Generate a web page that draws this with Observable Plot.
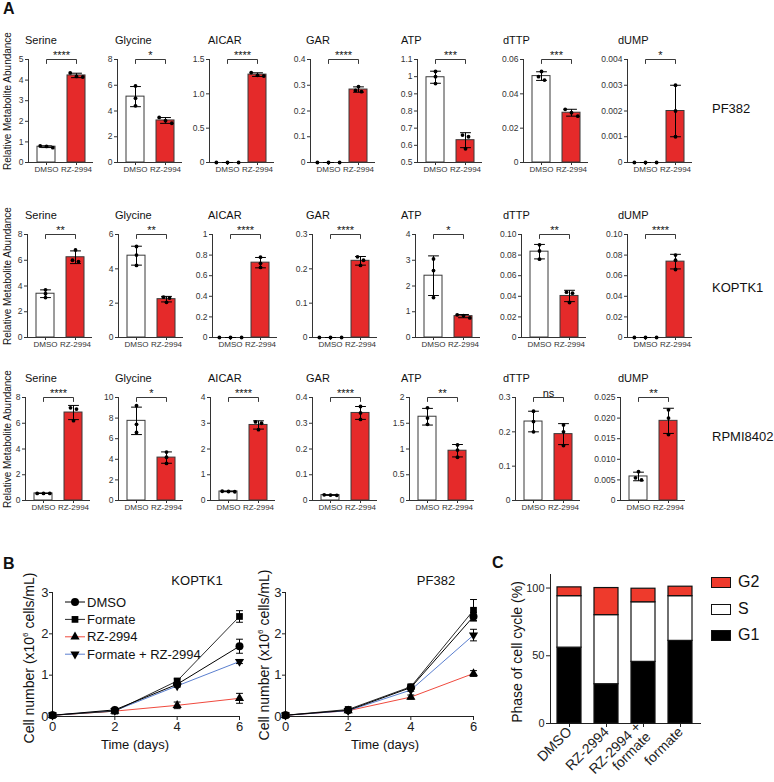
<!DOCTYPE html>
<html><head><meta charset="utf-8">
<script src="https://cdn.jsdelivr.net/npm/d3@7"></script>
<script src="https://cdn.jsdelivr.net/npm/@observablehq/plot@0.6"></script>
<style>
body{margin:0;background:#fff;}
#fig{position:relative;width:774px;height:782px;overflow:hidden;font-family:"Liberation Sans",Arial,Helvetica,sans-serif;color:#111;background:#fff;}
.lbl{position:absolute;white-space:nowrap;line-height:1;}
</style></head><body><div id="fig"></div>
<script>
const FONT = '"Liberation Sans", Arial, Helvetica, sans-serif';
const RED = "#e52a2a";

// ---------- Panel A data ----------
const metabolites = ["Serine","Glycine","AICAR","GAR","ATP","dTTP","dUMP"];
const cellLines = ["PF382","KOPTK1","RPMI8402"];
const groups = ["DMSO","RZ-2994"];

const pf382TickLabels = [["0","1","2","3","4","5"],["0","2","4","6","8"],["0","0.5","1.0","1.5"],["0","0.1","0.2","0.3","0.4"],["0.5","0.6","0.7","0.8","0.9","1","1.1"],["0","0.02","0.04","0.06"],["0","0.001","0.002","0.003","0.004"]];
const koptk1TickLabels = [["0","2","4","6","8"],["0","2","4","6"],["0","0.2","0.4","0.6","0.8","1"],["0","0.1","0.2","0.3"],["0","1","2","3","4"],["0","0.02","0.04","0.06","0.08","0.10"],["0","0.02","0.04","0.06","0.08","0.10"]];
const rpmi8402TickLabels = [["0","2","4","6","8"],["0","2","4","6","8","10"],["0","1","2","3","4"],["0","0.1","0.2","0.3","0.4"],["0","0.5","1","1.5","2"],["0","0.1","0.2","0.3"],["0","0.005","0.010","0.015","0.020","0.025"]];

const pf382Sig = ["****","*","****","****","***","***","*"];
const koptk1Sig = ["**","**","****","****","*","**","****"];
const rpmi8402Sig = ["****","*","****","****","**","ns","**"];

const pf382DMSO = [[0.72,0.78,0.80],[5.95,5.0,4.4],[0,0,0],[0,0,0],[1.03,1.0,0.96],[0.053,0.050,0.048],[0,0,0]];
const pf382RZ = [[4.35,4.18,4.15],[3.5,3.25,3.05],[1.31,1.27,1.26],[0.295,0.28,0.275],[0.66,0.65,0.58],[0.031,0.029,0.027],[0.003,0.002,0.001]];
const koptk1DMSO = [[3.7,3.4,3.1],[5.3,4.8,4.2],[0,0,0],[0,0,0],[3.05,2.6,1.55],[0.090,0.084,0.076],[0,0,0]];
const koptk1RZ = [[6.8,6.0,5.9],[2.35,2.3,2.05],[0.78,0.72,0.68],[0.235,0.225,0.21],[0.88,0.85,0.76],[0.044,0.043,0.034],[0.080,0.075,0.066]];
const rpmi8402DMSO = [[0.55,0.55,0.55],[9.2,7.4,6.6],[0.36,0.35,0.34],[0.022,0.021,0.020],[1.8,1.6,1.48],[0.26,0.23,0.20],[0.007,0.0055,0.005]];
const rpmi8402RZ = [[7.2,7.1,6.2],[4.7,4.2,3.6],[3.05,3.0,2.75],[0.365,0.34,0.315],[1.08,0.98,0.84],[0.22,0.20,0.16],[0.022,0.020,0.016]];

// ---------- Panel B data ----------
const days = [0,2,4,6];
const dayTicks = [0,2,4,6];
const cellTicks = [0,1,2,3];
const seriesNames = ["DMSO","Formate","RZ-2994","Formate + RZ-2994"];
const seriesColors = ["#000000","#2b2b2b","#f04a3e","#5b7fcf"];
const koptk1Growth = [[0.03,0.16,0.78,1.70],[0.03,0.13,0.86,2.42],[0.03,0.13,0.27,0.44],[0.03,0.14,0.74,1.33]];
const koptk1GrowthErr = [[0,0.02,0.04,0.17],[0,0.02,0.05,0.14],[0,0.01,0.08,0.12],[0,0.01,0.03,0.05]];
const pf382Growth = [[0.03,0.15,0.70,2.42],[0.03,0.17,0.72,2.57],[0.03,0.14,0.47,1.04],[0.03,0.14,0.64,1.97]];
const pf382GrowthErr = [[0,0.02,0.03,0.10],[0,0.02,0.05,0.26],[0,0.01,0.05,0.07],[0,0.01,0.03,0.14]];

// ---------- Panel C data ----------
const treatments = ["DMSO","RZ-2994","RZ-2994 +\nformate","formate"];
const phases = ["G1","S","G2"];
const phaseColors = ["#000000","#ffffff","#ee3a2c"];
const g1Pct = [56, 29, 45.5, 61];
const sPct = [38, 51, 44, 33];
const g2Pct = [6.5, 20, 10, 7];
const pctTicks = [0,50,100];

// ---------- layout ----------
const fig = document.getElementById("fig");
function label(html, x, y, o = {}) {
  const d = document.createElement("div");
  d.className = "lbl";
  d.innerHTML = html;
  d.style.left = x + "px"; d.style.top = y + "px";
  d.style.fontSize = (o.size || 11) + "px";
  if (o.bold) d.style.fontWeight = "bold";
  const ax = o.anchor === "start" ? "0" : o.anchor === "end" ? "-100%" : "-50%";
  d.style.transform = `translate(${ax},-50%)` + (o.rotate ? ` rotate(${o.rotate}deg)` : "");
  fig.appendChild(d);
  return d;
}
function place(svg, left, top) {
  svg.style.position = "absolute";
  svg.style.left = left + "px";
  svg.style.top = top + "px";
  svg.style.background = "none";
  svg.style.overflow = "visible";
  svg.style.maxWidth = "none";
  fig.appendChild(svg);
}

function spread(vals, span) {
  const idx = vals.map((v, i) => i).sort((a, b) => vals[b] - vals[a]);
  const off = vals.map(() => 0);
  let i = 0;
  while (i < idx.length) {
    let j = i + 1;
    while (j < idx.length && Math.abs(vals[idx[j - 1]] - vals[idx[j]]) <= 0.035 * span) j++;
    const k = j - i;
    const allZero = vals[idx[i]] === 0 && vals[idx[j - 1]] === 0;
    const gap = k === 1 ? 0 : allZero ? 0.37 : (k === 3 ? 0.21 : 0.2);
    for (let m = i; m < j; m++) off[idx[m]] = (m - i - (k - 1) / 2) * gap;
    i = j;
  }
  return off;
}

const rowsTick = [pf382TickLabels, koptk1TickLabels, rpmi8402TickLabels];
const rowsSig = [pf382Sig, koptk1Sig, rpmi8402Sig];
const rowsDMSO = [pf382DMSO, koptk1DMSO, rpmi8402DMSO];
const rowsRZ = [pf382RZ, koptk1RZ, rpmi8402RZ];
const colAxisX = [[28,117,209,310,417,523,627],[27,118,212,312,415,521,627],[25,118,210,312,409,515,620]];
const rowTop = [59, 234, 397];
const titleX = [25,115,208,306,401,503,618];
const cellLabelY = [108, 287, 436];
const PH = 103, MT = 28, MB = 20, ML = 36, PW = 64;

function smallChart(r, c) {
  const labels = rowsTick[r][c];
  const ticks = labels.map(Number);
  const y0 = ticks[0], y1 = ticks[ticks.length - 1];
  const span = y1 - y0;
  const reps = [rowsDMSO[r][c], rowsRZ[r][c]];
  const stats = reps.map((v, i) => ({i, mean: d3.mean(v), sd: d3.deviation(v) || 0}));
  const pts = [];
  reps.forEach((v, i) => { const off = spread(v, span); v.forEach((val, k) => pts.push({x: i + off[k], v: val})); });
  const dv = span * 4 / PH;
  const bracket = [{x: 0, y: y1 - dv}, {x: 0, y: y1}, {x: 1, y: y1}, {x: 1, y: y1 - dv}];
  const cap = 0.18;
  return Plot.plot({
    width: ML + PW + 4, height: MT + PH + MB,
    marginLeft: ML, marginRight: 4, marginTop: MT, marginBottom: MB,
    style: {fontFamily: FONT, fontSize: "8px", color: "#333"},
    x: {type: "linear", domain: [-0.6, 1.533], ticks: [0, 1], tickFormat: i => groups[i], tickSize: 3, tickPadding: 1, line: true, label: null},
    y: {domain: [y0, y1], ticks, tickFormat: d => labels[ticks.indexOf(d)], tickSize: 3, tickPadding: 2, line: true, label: null},
    marks: [
      Plot.rectY(stats.filter(d => d.i === 0), {x1: d => d.i - 0.3, x2: d => d.i + 0.3, y1: () => y0, y2: "mean", fill: "white", stroke: "#3a3a3a", strokeWidth: 1}),
      Plot.rectY(stats.filter(d => d.i === 1), {x1: d => d.i - 0.3, x2: d => d.i + 0.3, y1: () => y0, y2: "mean", fill: RED, stroke: "#3a3a3a", strokeWidth: 1}),
      Plot.link(stats, {x1: "i", x2: "i", y1: d => d.mean - d.sd, y2: d => d.mean + d.sd, stroke: "black", strokeWidth: 1}),
      Plot.link(stats, {x1: d => d.i - cap, x2: d => d.i + cap, y1: d => d.mean + d.sd, y2: d => d.mean + d.sd, stroke: "black", strokeWidth: 1}),
      Plot.link(stats, {x1: d => d.i - cap, x2: d => d.i + cap, y1: d => d.mean - d.sd, y2: d => d.mean - d.sd, stroke: "black", strokeWidth: 1}),
      Plot.dot(pts, {x: "x", y: "v", r: 1.9, fill: "black", stroke: "none"}),
      Plot.line(bracket, {x: "x", y: "y", stroke: "#222", strokeWidth: 0.9}),
      Plot.text([rowsSig[r][c]], {x: () => 0.5, y: () => y1, text: d => d, lineAnchor: "bottom", dy: -1, fontSize: 11, fill: "#111"})
    ]
  });
}

for (let r = 0; r < 3; r++) {
  for (let c = 0; c < 7; c++) {
    const svg = smallChart(r, c);
    svg.querySelectorAll('[aria-label="y-axis tick label"] text').forEach(t => t.style.fontSize = "8.5px");
    place(svg, colAxisX[r][c] - ML, rowTop[r] - MT);
    label(metabolites[c], titleX[c], rowTop[r] - 19, {size: 11, anchor: "start"});
  }
  label("Relative Metabolite Abundance", 8, rowTop[r] + 42, {size: 10, rotate: -90});
  label(cellLines[r], 712, cellLabelY[r], {size: 13, anchor: "start"});
}

// ---------- Panel B ----------
const triDown = {
  draw(context, size) {
    const s3 = Math.sqrt(3);
    const y = -Math.sqrt(size / (s3 * 3));
    context.moveTo(0, -y * 2);
    context.lineTo(-s3 * y, y);
    context.lineTo(s3 * y, y);
    context.closePath();
  }
};
const seriesSymbols = ["circle", "square", "triangle", triDown];
const seriesR = [4, 3.8, 3.4, 3.4];

function growthChart(means, errs, plotW) {
  const marks = [];
  const order = [2, 3, 1, 0];
  for (const s of order) {
    const rows = days.map((d, j) => ({day: d, v: means[s][j]}));
    marks.push(Plot.line(rows, {x: "day", y: "v", stroke: seriesColors[s], strokeWidth: 1}));
  }
  for (const s of order) {
    const rows = days.map((d, j) => ({day: d, v: means[s][j], e: errs[s][j]}));
    const er = rows.filter(d => d.e > 0.015);
    marks.push(Plot.link(er, {x1: "day", x2: "day", y1: d => d.v - d.e, y2: d => d.v + d.e, stroke: "black", strokeWidth: 1}));
    marks.push(Plot.link(er, {x1: d => d.day - 0.11, x2: d => d.day + 0.11, y1: d => d.v + d.e, y2: d => d.v + d.e, stroke: "black", strokeWidth: 1}));
    marks.push(Plot.link(er, {x1: d => d.day - 0.11, x2: d => d.day + 0.11, y1: d => d.v - d.e, y2: d => d.v - d.e, stroke: "black", strokeWidth: 1}));
    marks.push(Plot.dot(rows, {x: "day", y: "v", symbol: seriesSymbols[s], r: seriesR[s], fill: "black", stroke: "none"}));
  }
  return Plot.plot({
    width: 52 + plotW + 11, height: 196,
    marginLeft: 52, marginRight: 11, marginTop: 32, marginBottom: 40,
    style: {fontFamily: FONT, fontSize: "13px", color: "#222"},
    x: {domain: [0, 6], ticks: dayTicks, tickFormat: d => String(d), tickSize: 4, tickPadding: 1, line: true, label: null},
    y: {domain: [0, 3], ticks: cellTicks, tickFormat: d => String(d), tickSize: 3, tickPadding: 1, line: true, label: null},
    marks
  });
}

place(growthChart(koptk1Growth, koptk1GrowthErr, 187), 0, 560);
place(growthChart(pf382Growth, pf382GrowthErr, 188), 233, 560);
label("KOPTK1", 197, 580, {size: 13});
label("PF382", 436, 580, {size: 13});
label("Time (days)", 135, 744, {size: 13});
label("Time (days)", 385, 744, {size: 13});
const yTitle = 'Cell number (x10<sup style="font-size:8px;line-height:0">6</sup> cells/mL)';
label(yTitle, 29, 658, {size: 14, rotate: -90});
label(yTitle, 264, 655, {size: 14, rotate: -90});

// legend B
const leg = d3.create("svg").attr("width", 200).attr("height", 75)
  .style("position", "absolute").style("left", "60px").style("top", "592px").style("overflow", "visible");
seriesNames.forEach((name, s) => {
  const y = 10 + s * 17.4;
  leg.append("line").attr("x1", 5).attr("x2", 25).attr("y1", y).attr("y2", y).attr("stroke", seriesColors[s]).attr("stroke-width", 1);
  const sym = s === 3 ? triDown : [d3.symbolCircle, d3.symbolSquare, d3.symbolTriangle][s];
  leg.append("path").attr("transform", `translate(15,${y})`).attr("d", d3.symbol(sym, Math.PI * seriesR[s] * seriesR[s])()).attr("fill", "black");
  leg.append("text").attr("x", 27).attr("y", y).attr("dy", "0.36em").attr("font-size", 13).attr("font-family", FONT).attr("fill", "#111").text(name);
});
fig.appendChild(leg.node());

// ---------- Panel C ----------
const cRows = [];
treatments.forEach((t, i) => {
  cRows.push({t, phase: "G1", v: g1Pct[i]}, {t, phase: "S", v: sPct[i]}, {t, phase: "G2", v: g2Pct[i]});
});
const cSvg = Plot.plot({
  width: 200, height: 217,
  marginLeft: 40, marginRight: 10, marginTop: 10, marginBottom: 58,
  style: {fontFamily: FONT, fontSize: "14px", color: "#222"},
  x: {domain: treatments, paddingInner: 0.35, paddingOuter: 0.2, tickRotate: -45, tickSize: 4, tickPadding: 2, line: true, label: null},
  y: {domain: [0, 110], ticks: pctTicks, tickSize: 4, tickPadding: 2, line: true, label: null},
  color: {domain: phases, range: phaseColors},
  marks: [Plot.barY(cRows, {x: "t", y: "v", fill: "phase", stroke: "#111", strokeWidth: 1.2})]
});
cSvg.querySelectorAll('[aria-label="y-axis tick label"] text').forEach(t => t.style.fontSize = "11px");
place(cSvg, 510, 564);
label("Phase of cell cycle (%)", 517, 652, {size: 14, rotate: -90});
// legend C
[["G2", 2], ["S", 1], ["G1", 0]].forEach(([name, k], j) => {
  const y = 582 + j * 26.5;
  const sw = document.createElement("div");
  sw.style.cssText = `position:absolute;left:711px;top:${y - 5}px;width:18px;height:9px;border:1px solid #111;background:${phaseColors[k]};`;
  fig.appendChild(sw);
  label(name, 738, y, {size: 16, anchor: "start"});
});

// panel letters
label("A", 3, 9, {size: 16, bold: true, anchor: "start"});
label("B", 3, 564, {size: 16, bold: true, anchor: "start"});
label("C", 492, 563, {size: 16, bold: true, anchor: "start"});
</script></body></html>
